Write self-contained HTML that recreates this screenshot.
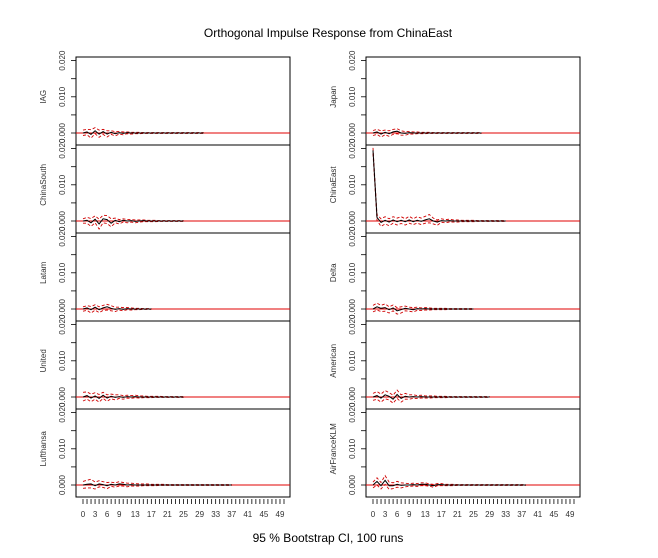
<!DOCTYPE html>
<html><head><meta charset="utf-8"><style>
body{margin:0;background:#fff;}
svg{font-family:"Liberation Sans",sans-serif;}
</style></head><body>
<svg id="chart" width="658" height="553" viewBox="0 0 658 553" xmlns="http://www.w3.org/2000/svg">
<text x="328" y="37" font-size="12" text-anchor="middle">Orthogonal Impulse Response from ChinaEast</text>
<text x="328" y="542" font-size="12" text-anchor="middle">95 % Bootstrap CI,  100 runs</text>
<g id="plots"></g>
</svg>
<script>
// values in units of 0.001
const names = ["IAG","ChinaSouth","Latam","United","Lufthansa","Japan","ChinaEast","Delta","American","AirFranceKLM"];
const resp = [
 [0,0.3,-0.4,0.6,-0.3,0.4,-0.3,0.2,-0.2,0.1,-0.1,0.1,0,0,0,0,0,0,0,0,0,0,0,0,0,0,0,0,0,0,0],
 [0,0.2,-0.5,0.5,-0.8,0.6,0.4,-0.6,0.2,-0.2,0.2,0,0.1,-0.1,0,0.1,0,0,0,0,0,0,0,0,0,0],
 [0,0.3,-0.2,0.5,-0.2,0.3,0.6,0.2,-0.1,0.1,-0.1,0.1,0,0,0,0,0,0],
 [0,0.4,-0.3,0.3,-0.4,0.5,-0.3,0.2,-0.1,0.1,-0.1,0.1,0,0.1,0,0,0,0,0,0,0,0,0,0,0,0],
 [0,0.2,0.3,-0.2,0.3,0.1,-0.2,0.2,0,0.3,0.2,0,0.1,0,0,0,0,0,0,0,0,0,0,0,0,0,0,0,0,0,0,0,0,0,0,0,0,0],
 [0,0.3,-0.3,0.2,-0.2,0.3,0.5,0,-0.1,0.1,0,0,0,0,0,0,0,0,0,0,0,0,0,0,0,0,0,0],
 [19.5,1.0,-0.4,0.2,-0.3,0.3,-0.2,0.2,-0.2,0.3,-0.2,0.2,-0.1,0.3,0.6,0,-0.3,0.1,0,0.1,0,0,0,0,0,0,0,0,0,0,0,0,0,0],
 [0,0.6,0.2,0.4,-0.2,0.3,-0.5,-0.2,0.2,0,-0.2,0.1,0,0.1,0,0,0,0,0,0,0,0,0,0,0,0],
 [0,0.4,-0.3,0.6,0.2,-0.6,0.7,-0.4,0.2,0,0.1,0,0.1,0,0,0,0,0,0,0,0,0,0,0,0,0,0,0,0,0],
 [0,1.0,-0.2,1.3,-0.2,-0.2,0.2,-0.1,0,0,0.1,0,0.2,0.2,0,-0.2,0.1,0.1,0,0,0,0,0,0,0,0,0,0,0,0,0,0,0,0,0,0,0,0,0]
];
const upper = [
 [0.8,1.0,0.9,1.5,0.8,1.0,0.6,0.6,0.4,0.4,0.3,0.3,0.2,0.2,0.2,0.1,0.1,0.1,0.1,0.1,0.1,0.1,0.1,0.1,0.1,0.1,0.1,0.1,0.1,0.1,0.1],
 [0.6,1.0,0.7,1.4,0.5,1.6,1.5,0.6,0.8,0.4,0.6,0.4,0.4,0.3,0.3,0.3,0.2,0.2,0.2,0.1,0.1,0.1,0.1,0.1,0.1,0.1],
 [0.6,0.9,0.7,1.2,0.6,1.0,1.3,0.9,0.5,0.5,0.4,0.4,0.3,0.2,0.2,0.1,0.1,0.1],
 [1.3,1.4,0.8,1.2,0.7,1.3,0.6,0.8,0.6,0.6,0.4,0.5,0.4,0.5,0.3,0.3,0.2,0.2,0.2,0.2,0.1,0.1,0.1,0.1,0.1,0.1],
 [1.0,1.3,1.6,0.8,1.2,0.9,0.7,0.8,0.6,0.9,0.7,0.5,0.5,0.4,0.3,0.3,0.3,0.2,0.2,0.2,0.2,0.1,0.1,0.1,0.1,0.1,0.1,0.1,0.1,0.1,0.1,0.1,0.1,0.1,0.1,0.1,0.1,0.1],
 [0.7,1.0,0.6,0.8,0.6,1.0,1.2,0.6,0.4,0.4,0.3,0.3,0.2,0.2,0.2,0.1,0.1,0.1,0.1,0.1,0.1,0.1,0.1,0.1,0.1,0.1,0.1,0.1],
 [20.2,1.8,0.6,1.2,0.6,1.2,0.8,1.2,0.6,1.3,0.6,1.2,0.8,1.3,1.8,0.8,0.3,0.6,0.4,0.5,0.3,0.3,0.2,0.2,0.2,0.2,0.1,0.1,0.1,0.1,0.1,0.1,0.1,0.1],
 [1.0,1.6,1.0,1.4,0.6,1.1,0.4,0.6,0.8,0.5,0.4,0.5,0.3,0.4,0.3,0.2,0.2,0.2,0.2,0.1,0.1,0.1,0.1,0.1,0.1,0.1],
 [1.0,1.5,0.8,1.8,1.2,0.5,1.9,0.6,1.0,0.6,0.6,0.4,0.5,0.3,0.3,0.3,0.2,0.2,0.2,0.1,0.1,0.1,0.1,0.1,0.1,0.1,0.1,0.1,0.1,0.1],
 [0.8,2.0,0.7,2.6,0.8,0.6,1.0,0.6,0.5,0.4,0.5,0.4,0.6,0.6,0.3,0.2,0.4,0.4,0.2,0.2,0.2,0.1,0.1,0.1,0.1,0.1,0.1,0.1,0.1,0.1,0.1,0.1,0.1,0.1,0.1,0.1,0.1,0.1,0.1]
];
const lower = [
 [-0.7,-0.5,-1.4,-0.2,-1.2,-0.4,-1.1,-0.4,-0.8,-0.3,-0.5,-0.2,-0.3,-0.2,-0.2,-0.1,-0.1,-0.1,-0.1,-0.1,-0.1,-0.1,-0.1,-0.1,-0.1,-0.1,-0.1,-0.1,-0.1,-0.1,-0.1],
 [-0.6,-0.6,-1.5,-0.5,-2.2,-0.5,-0.7,-1.6,-0.5,-0.8,-0.3,-0.5,-0.3,-0.5,-0.3,-0.2,-0.2,-0.2,-0.2,-0.1,-0.1,-0.1,-0.1,-0.1,-0.1,-0.1],
 [-0.6,-0.4,-1.1,-0.3,-1.0,-0.4,-0.3,-0.5,-0.7,-0.3,-0.5,-0.2,-0.3,-0.2,-0.2,-0.1,-0.1,-0.1],
 [-1.1,-0.6,-1.3,-0.6,-1.4,-0.4,-1.2,-0.5,-0.8,-0.4,-0.6,-0.3,-0.4,-0.2,-0.3,-0.2,-0.2,-0.2,-0.1,-0.1,-0.1,-0.1,-0.1,-0.1,-0.1,-0.1],
 [-0.9,-0.8,-0.8,-1.1,-0.5,-0.7,-1.0,-0.4,-0.6,-0.3,-0.3,-0.5,-0.3,-0.3,-0.3,-0.2,-0.2,-0.2,-0.2,-0.1,-0.1,-0.1,-0.1,-0.1,-0.1,-0.1,-0.1,-0.1,-0.1,-0.1,-0.1,-0.1,-0.1,-0.1,-0.1,-0.1,-0.1,-0.1],
 [-0.7,-0.4,-1.1,-0.5,-0.9,-0.4,-0.2,-0.6,-0.6,-0.3,-0.3,-0.2,-0.2,-0.2,-0.1,-0.1,-0.1,-0.1,-0.1,-0.1,-0.1,-0.1,-0.1,-0.1,-0.1,-0.1,-0.1,-0.1],
 [18.6,0.2,-1.5,-0.8,-1.3,-0.6,-1.1,-0.7,-1.1,-0.6,-1.0,-0.6,-1.0,-0.6,-0.5,-0.8,-1.2,-0.4,-0.5,-0.3,-0.3,-0.3,-0.2,-0.2,-0.2,-0.2,-0.1,-0.1,-0.1,-0.1,-0.1,-0.1,-0.1,-0.1],
 [-0.8,-0.3,-0.7,-0.6,-1.1,-0.5,-1.4,-1.1,-0.5,-0.6,-0.8,-0.4,-0.4,-0.3,-0.3,-0.2,-0.2,-0.2,-0.2,-0.1,-0.1,-0.1,-0.1,-0.1,-0.1,-0.1],
 [-0.9,-0.6,-1.4,-0.5,-0.8,-1.7,-0.4,-1.4,-0.6,-0.6,-0.4,-0.4,-0.3,-0.3,-0.3,-0.2,-0.2,-0.2,-0.2,-0.1,-0.1,-0.1,-0.1,-0.1,-0.1,-0.1,-0.1,-0.1,-0.1,-0.1],
 [-0.8,0,-1.1,0.2,-1.2,-1.0,-0.6,-0.8,-0.5,-0.4,-0.3,-0.4,-0.2,-0.2,-0.3,-0.6,-0.2,-0.2,-0.2,-0.2,-0.2,-0.1,-0.1,-0.1,-0.1,-0.1,-0.1,-0.1,-0.1,-0.1,-0.1,-0.1,-0.1,-0.1,-0.1,-0.1,-0.1,-0.1,-0.1]
];
const yTicks = [0,5,10,15,20];
const yLabels = ["0.000","0.010","0.020"];
const yLabelVals = [0,10,20];
const xLabels = [0,3,6,9,13,17,21,25,29,33,37,41,45,49];

const NS="http://www.w3.org/2000/svg";
const root=document.getElementById('plots');
function mk(t,a,p){const e=document.createElementNS(NS,t);for(const k in a)e.setAttribute(k,a[k]);(p||root).appendChild(e);return e;}
const colLeft=[76,366], colW=214, panelTop=57, panelH=88;
names.forEach((nm,i)=>{
  const col=Math.floor(i/5), row=i%5;
  const L=colLeft[col], T=panelTop+row*panelH, B=T+panelH-(row===4?1:0);
  const zeroY=T+76;
  const xs=k=>L+7+k*4.02;
  const ys=v=>zeroY-v*3.62;
  const g=mk('g',{});
  
  
  // box
  const box=mk('rect',{x:L,y:T,width:colW,height:panelH,fill:'none',stroke:'#000','stroke-width':1},g);
  
  
  // y ticks
  yTicks.forEach(v=>{const t=mk('line',{x1:L-5,x2:L,y1:ys(v),y2:ys(v),stroke:'#000','stroke-width':0.8},g);
    });
  yLabels.forEach((s,j)=>{const y=ys(yLabelVals[j]);
    const t=mk('text',{x:0,y:0,'font-size':8,'text-anchor':'middle',fill:'#333',transform:`translate(${L-11},${y}) rotate(-90)`},g);
    t.textContent=s;});
  const yt=mk('text',{x:0,y:0,'font-size':8,'text-anchor':'middle',fill:'#333',transform:`translate(${L-30},${ys(10)}) rotate(-90)`},g);
  yt.textContent=nm;
  // zero line
  const z=mk('line',{x1:L,x2:L+colW,y1:zeroY,y2:zeroY,stroke:'#e00000','stroke-width':1},g);
  
  const pts=a=>a.map((v,k)=>xs(k).toFixed(1)+','+ys(v).toFixed(1)).join(' ');
  const up=mk('polyline',{points:pts(upper[i]),fill:'none',stroke:'#d00000','stroke-width':0.9,'stroke-dasharray':'3,2'},g);
  
  const lo=mk('polyline',{points:pts(lower[i]),fill:'none',stroke:'#d00000','stroke-width':0.9,'stroke-dasharray':'3,2'},g);
  
  const rl=mk('polyline',{points:pts(resp[i]),fill:'none',stroke:'#000','stroke-width':1},g);
  
  if(row===4){
    for(let k=0;k<=50;k++){const t=mk('line',{x1:xs(k),x2:xs(k),y1:B+3,y2:B+8,stroke:'#000','stroke-width':0.8},g);
      }
    xLabels.forEach(v=>{const t=mk('text',{x:xs(v),y:B+21,'font-size':8,'text-anchor':'middle',fill:'#333'},g);
      t.textContent=v;});
  }
});
</script>
</body></html>
